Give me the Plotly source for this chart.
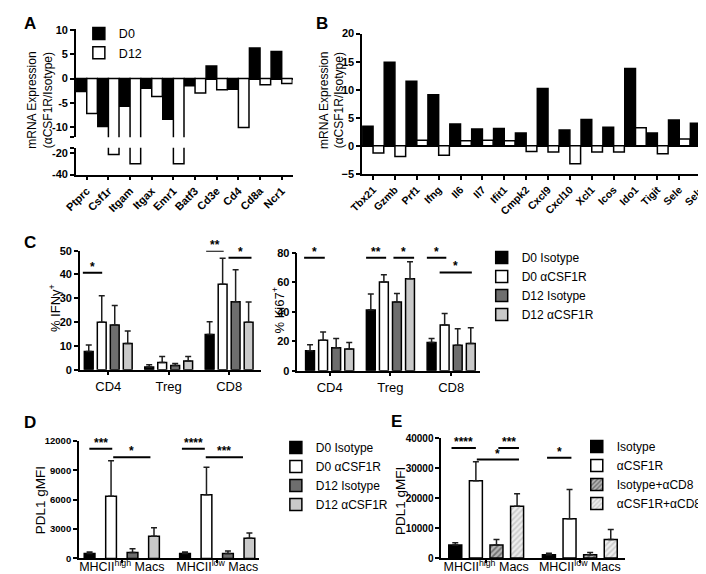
import plotly.graph_objects as go

W, H = 706, 574
FONT = "Arial, 'Liberation Sans', sans-serif"


def px(x):
    return x / W


def py(y):
    return 1 - y / H


# ---------------- data ----------------
genes_a = ['Ptprc', 'Csf1r', 'Itgam', 'Itgax', 'Emr1', 'Batf3', 'Cd3e', 'Cd4', 'Cd8a', 'Ncr1']
a_d0 = [-2.7, -9.9, -5.7, -2.0, -8.4, -1.5, 2.6, -2.2, 6.3, 5.6]
a_d12 = [-7.2, -21.5, -30, -3.7, -30, -3.0, -2.3, -10.1, -1.3, -1.0]

genes_b = ['Tbx21', 'Gzmb', 'Prf1', 'Ifng', 'Il6', 'Il7', 'Ifit1', 'Cmpk2', 'Cxcl9', 'Cxcl10',
           'Xcl1', 'Icos', 'Ido1', 'Tigit', 'Sele', 'Selp']
b_d0 = [3.5, 14.9, 11.5, 9.1, 3.9, 3.0, 3.1, 2.3, 10.2, 2.8, 4.7, 3.3, 13.8, 2.3, 4.6, 4.0]
b_d12 = [-1.3, -1.9, 1.0, -1.7, 0.9, 1.0, 0.9, -1.0, -1.1, -3.2, -1.1, -1.1, 3.2, -1.4, 1.2, 1.4]

cells = ['CD4', 'Treg', 'CD8']
c_groups = ['D0 Isotype', 'D0 αCSF1R', 'D12 Isotype', 'D12 αCSF1R']
ifng_mean = [[7.6, 1.1, 14.8], [19.9, 3.0, 35.9], [18.8, 1.8, 28.5], [11.0, 3.7, 19.9]]
ifng_err = [[2.8, 1.0, 5.3], [11.2, 2.5, 10.9], [8.2, 0.8, 13.5], [5.3, 1.8, 8.5]]
ki67_mean = [[13.6, 41.3, 19.1], [20.7, 60.2, 31.1], [15.6, 46.7, 17.3], [14.7, 62.4, 18.4]]
ki67_err = [[4.0, 10.7, 2.7], [5.5, 4.9, 7.8], [6.2, 5.7, 11.1], [4.4, 11.6, 10.7]]

macs = ['MHCII<sup>high</sup> Macs', 'MHCII<sup>low</sup> Macs']
d_mean = [[500, 500], [6350, 6510], [600, 500], [2250, 2050]]
d_err = [[160, 160], [3630, 2810], [390, 260], [890, 530]]

e_groups = ['Isotype', 'αCSF1R', 'Isotype+αCD8', 'αCSF1R+αCD8']
e_mean = [[4360, 1090], [25850, 13090], [4360, 1090], [17340, 6200]]
e_err = [[770, 550], [6320, 9810], [1840, 760], [4140, 3300]]

# ---------------- styles ----------------
four_fill = ['#000000', '#ffffff', '#6e6e6e', '#c9c9c9']
e_fill = ['#000000', '#ffffff', '#b5b5b5', '#eeeeee']
e_pattern = [None, None,
             dict(shape='/', fgcolor='#2a2a2a', size=4, solidity=0.45),
             dict(shape='/', fgcolor='#a8a8a8', size=4, solidity=0.45)]


def layout_group(n, gap, groupgap):
    slot = (1 - gap) / n
    w = slot * (1 - groupgap)
    return [(-(1 - gap) / 2 + i * slot + (slot - w) / 2, w) for i in range(n)]


fig = go.Figure()


def add_bar(x, y, name, fill, xa, ya, off, w, legend='legend', showlegend=False,
            err=None, pattern=None, lw=1.5):
    marker = dict(color=fill, line=dict(color='black', width=lw))
    if pattern:
        marker['pattern'] = pattern
    kw = {}
    if err is not None:
        kw['error_y'] = dict(type='data', array=err, arrayminus=[0] * len(err), symmetric=False,
                             color='#1e1e1e', thickness=1.5, width=3)
    fig.add_trace(go.Bar(x=x, y=y, name=name, marker=marker, xaxis=xa, yaxis=ya,
                         offset=off, width=w, legend=legend, showlegend=showlegend,
                         legendgroup=name + legend, **kw))


# Panel A (broken axis: upper y, lower y2)
ab = layout_group(2, 0.02, 0.0)
for ya in ['y', 'y2']:
    add_bar(genes_a, a_d0, 'D0', '#000000', 'x', ya, ab[0][0], ab[0][1],
            legend='legend', showlegend=(ya == 'y'))
    add_bar(genes_a, a_d12, 'D12', '#ffffff', 'x', ya, ab[1][0], ab[1][1],
            legend='legend', showlegend=(ya == 'y'))

# Panel B
add_bar(genes_b, b_d0, 'D0', '#000000', 'x2', 'y3', ab[0][0], ab[0][1])
add_bar(genes_b, b_d12, 'D12', '#ffffff', 'x2', 'y3', ab[1][0], ab[1][1])

# Panel C
cg = layout_group(4, 0.14, 0.32)
for i in range(4):
    add_bar(cells, ifng_mean[i], c_groups[i], four_fill[i], 'x3', 'y4', cg[i][0], cg[i][1],
            legend='legend2', showlegend=True, err=ifng_err[i])
    add_bar(cells, ki67_mean[i], c_groups[i], four_fill[i], 'x4', 'y5', cg[i][0], cg[i][1],
            legend='legend2', showlegend=False, err=ki67_err[i])

# Panel D
dg = layout_group(4, 0.10, 0.50)
for i in range(4):
    add_bar(macs, d_mean[i], c_groups[i], four_fill[i], 'x5', 'y6', dg[i][0], dg[i][1],
            legend='legend3', showlegend=True, err=d_err[i])

# Panel E
eg = layout_group(4, 0.12, 0.37)
for i in range(4):
    add_bar(macs, e_mean[i], e_groups[i], e_fill[i], 'x6', 'y7', eg[i][0], eg[i][1],
            legend='legend4', showlegend=True, err=e_err[i], pattern=e_pattern[i])

# ---------------- axes ----------------
tick_bold = dict(family=FONT, size=11, color='black', weight='bold')
tick_bold_b = dict(family=FONT, size=10.5, color='black', weight='bold')
tick_bold_d = dict(family=FONT, size=9.5, color='black', weight='bold')
tick_bold_e = dict(family=FONT, size=10, color='black', weight='bold')
cat_font = dict(family=FONT, size=13, color='black')
cat_font_m = dict(family=FONT, size=12.5, color='black')
axis_common = dict(showline=True, linecolor='black', linewidth=1.5, ticks='outside',
                   ticklen=4, tickwidth=1.5, tickcolor='black', showgrid=False, zeroline=False)

lay = dict(
    width=W, height=H, margin=dict(l=0, r=0, t=0, b=0),
    paper_bgcolor='white', plot_bgcolor='rgba(0,0,0,0)',
    barmode='overlay', font=dict(family=FONT, color='black'),
    # A
    xaxis=dict(axis_common, domain=[px(55), px(276)], anchor='y2', type='category',
               categoryarray=genes_a, range=[-0.5, 9.5], tickangle=-45, tickfont=tick_bold),
    yaxis=dict(axis_common, domain=[py(126), py(15.7)], anchor='x', range=[-12.15, 10.16],
               tickvals=[10, 5, 0, -5, -10, -12.1], ticktext=['10', '5', '0', '-5', '-10', ''],
               tickfont=tick_bold, zeroline=True, zerolinecolor='black', zerolinewidth=1.5),
    yaxis2=dict(axis_common, domain=[py(164), py(136.7)], anchor='x', range=[-40, -15.5],
                tickvals=[-40, -20, -15.55], ticktext=['-40', '-20', ''], tickfont=tick_bold),
    # B
    xaxis2=dict(axis_common, domain=[px(347), px(704)], anchor='y3', type='category',
                categoryarray=genes_b, range=[-0.5, 15.5], tickangle=-45, tickfont=tick_bold_b),
    yaxis3=dict(axis_common, domain=[py(163.3), py(20)], anchor='x2', range=[-5, 20],
                dtick=5, tickfont=tick_bold, zeroline=True, zerolinecolor='black',
                zerolinewidth=1.5),
    # C left
    xaxis3=dict(axis_common, domain=[px(59), px(244)], anchor='y4', type='category',
                range=[-0.47, 2.53], tickfont=cat_font),
    yaxis4=dict(axis_common, domain=[py(363.3), py(241.7)], anchor='x3', range=[0, 50],
                dtick=10, tickfont=tick_bold),
    # C right
    xaxis4=dict(axis_common, domain=[px(281), px(467)], anchor='y5', type='category',
                range=[-0.53, 2.47], tickfont=cat_font),
    yaxis5=dict(axis_common, domain=[py(364.3), py(244)], anchor='x4', range=[0, 80],
                dtick=20, tickfont=tick_bold),
    # D
    xaxis5=dict(axis_common, domain=[px(58), px(242)], anchor='y6', type='category',
                range=[-0.45, 1.44], tickfont=cat_font_m, ticklen=3, ticklabelstandoff=-7),
    yaxis6=dict(axis_common, domain=[py(556), py(436)], anchor='x5', range=[0, 12000],
                dtick=3000, tickformat='d', tickfont=tick_bold_d),
    # E
    xaxis6=dict(axis_common, domain=[px(427.7), px(615)], anchor='y7', type='category',
                range=[-0.48, 1.48], tickfont=cat_font_m, ticklen=3, ticklabelstandoff=-7),
    yaxis7=dict(axis_common, domain=[py(555.7), py(433.3)], anchor='x6', range=[0, 40000],
                dtick=10000, tickformat='d', tickfont=tick_bold_e),
)

leg_common = dict(bgcolor='rgba(0,0,0,0)', borderwidth=0, xanchor='left', yanchor='top',
                  font=dict(family=FONT, size=12, color='black'), tracegroupgap=2,
                  traceorder='normal')
lay['legend'] = dict(leg_common, x=px(58), y=py(5), tracegroupgap=1,
                     font=dict(family=FONT, size=12.5, color='black'))
lay['legend2'] = dict(leg_common, x=px(469), y=py(234))
lay['legend3'] = dict(leg_common, x=px(259), y=py(428))
lay['legend4'] = dict(leg_common, x=px(566), y=py(427))
fig.update_layout(**lay)

# ---------------- annotations ----------------
ann = []


def text(x, y, s, size=12, bold=False, angle=0, xanchor='center', yanchor='middle',
         xref='paper', yref='paper'):
    ann.append(dict(x=x, y=y, xref=xref, yref=yref, text=s, showarrow=False,
                    textangle=angle, xanchor=xanchor, yanchor=yanchor,
                    font=dict(family=FONT, size=size, color='black',
                              weight='bold' if bold else 'normal')))


# panel letters
for letter, (x, y) in {'A': (8, 10), 'B': (306, 10), 'C': (8, 233), 'D': (8, 417),
                       'E': (382, 416)}.items():
    text(px(x), py(y), letter, size=17, bold=True)

# axis titles
text(px(19), py(88), 'mRNA Expression<br>(αCSF1R/Isotype)', size=12, angle=-90)
text(px(316), py(88), 'mRNA Expression<br>(αCSF1R/Isotype)', size=12, angle=-90)
text(px(33), py(300), '% IFNγ<sup>+</sup>', size=13, angle=-90)
text(px(261), py(302), '% Ki67<sup>+</sup>', size=13, angle=-90)
text(px(19), py(497), 'PDL1 gMFI', size=13.5, angle=-90)
text(px(386), py(497), 'PDL1 gMFI', size=13.5, angle=-90)

# significance brackets (data coordinates)
shapes = []


def sig(xa, ya, x0, x1, y, stars):
    shapes.append(dict(type='line', xref=xa, yref=ya, x0=x0, x1=x1, y0=y, y1=y,
                       line=dict(color='black', width=2)))
    ann.append(dict(x=(x0 + x1) / 2, y=y, xref=xa, yref=ya, text=stars, showarrow=False,
                    xanchor='center', yanchor='bottom', yshift=-3,
                    font=dict(family=FONT, size=12, color='black', weight='bold')))


sig('x3', 'y4', -0.42, -0.10, 40.7, '*')
sig('x3', 'y4', 1.62, 1.91, 50.0, '**')
sig('x3', 'y4', 1.99, 2.37, 47.0, '*')

sig('x4', 'y5', -0.42, -0.08, 76.7, '*')
sig('x4', 'y5', 0.60, 0.93, 76.7, '**')
sig('x4', 'y5', 1.05, 1.39, 76.7, '*')
sig('x4', 'y5', 1.60, 1.92, 76.7, '*')
sig('x4', 'y5', 1.81, 2.34, 66.7, '*')

sig('x5', 'y6', -0.34, -0.10, 11200, '***')
sig('x5', 'y6', -0.09, 0.30, 10330, '*')
sig('x5', 'y6', 0.63, 0.87, 11200, '****')
sig('x5', 'y6', 0.88, 1.27, 10330, '***')

sig('x6', 'y7', -0.37, -0.11, 36730, '****')
sig('x6', 'y7', 0.13, 0.35, 36730, '***')
sig('x6', 'y7', -0.10, 0.35, 32900, '*')
sig('x6', 'y7', 0.65, 0.91, 33460, '*')

fig.update_layout(annotations=ann, shapes=shapes)
fig.write_html('out.html')
